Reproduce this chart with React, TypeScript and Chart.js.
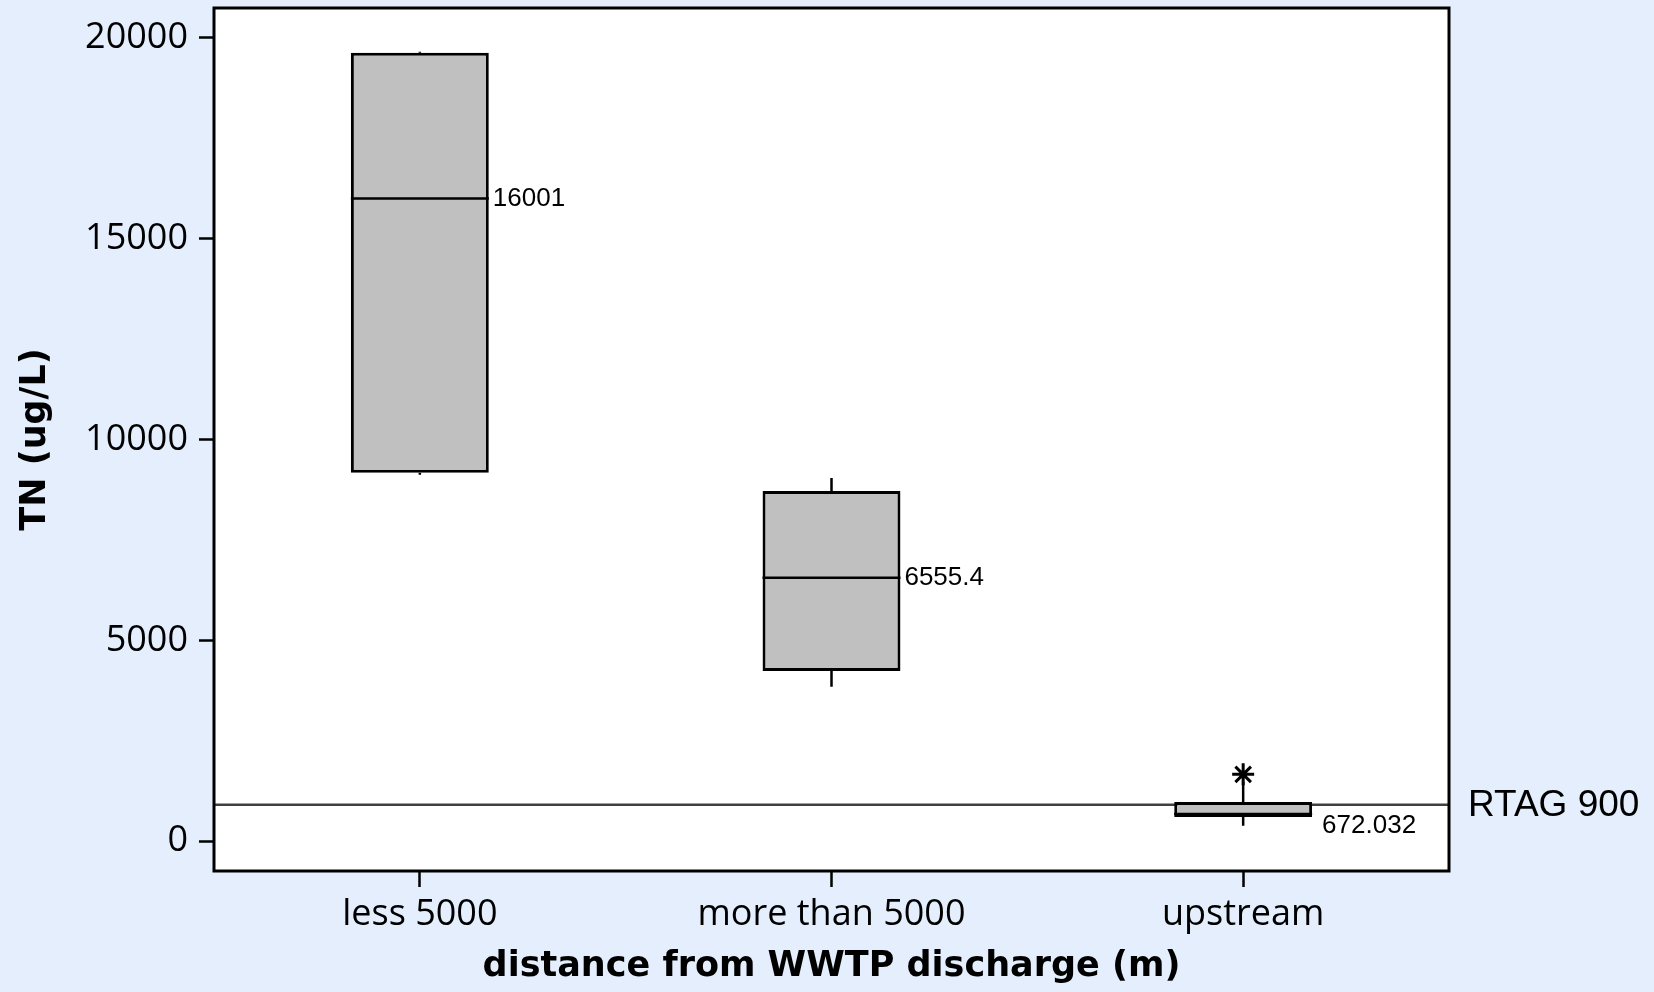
import React, { useEffect, useRef } from "react";
import { Chart, registerables } from "chart.js";

Chart.register(...registerables);

const categories = ["less 5000", "more than 5000", "upstream"];
const whiskerLow = [9120, 3840, 380];
const q1Values = [9170, 4235, 600];
const medianValues = [16001, 6555.4, 672.032];
const q3Values = [19630, 8715, 970];
const whiskerHigh = [19660, 9040, 1480];
const medianLabels = ["16001", "6555.4", "672.032"];
const outlierCategories = ["upstream"];
const outlierValues = [1660];
const yTickValues = [0, 5000, 10000, 15000, 20000];
const referenceValue = 900;
const referenceLabel = "RTAG 900";
const yTitle = "TN (ug/L)";
const xTitle = "distance from WWTP discharge (m)";

const FONT = "'Open Sans', 'Liberation Sans', Arial, sans-serif";
const SMALL_FONT = "'Liberation Sans', Arial, sans-serif";
const BOLD_FONT = "'DejaVu Sans', 'Liberation Sans', sans-serif";
const BG = "#e4eefc";

const boxPlugin = {
  id: "boxExtras",
  beforeDraw(chart: any) {
    const { ctx, chartArea } = chart;
    ctx.save();
    ctx.fillStyle = "#ffffff";
    ctx.fillRect(chartArea.left, chartArea.top, chartArea.right - chartArea.left, chartArea.bottom - chartArea.top);
    ctx.restore();
  },
  beforeDatasetsDraw(chart: any) {
    const { ctx, chartArea, scales } = chart;
    const x = scales.x;
    const y = scales.y;
    ctx.save();
    const ry = y.getPixelForValue(referenceValue);
    ctx.strokeStyle = "#404040";
    ctx.lineWidth = 2.5;
    ctx.beginPath();
    ctx.moveTo(chartArea.left, ry);
    ctx.lineTo(chartArea.right, ry);
    ctx.stroke();
    ctx.strokeStyle = "#000";
    ctx.lineWidth = 2.5;
    categories.forEach((_, i) => {
      const cx = x.getPixelForValue(i);
      ctx.beginPath();
      ctx.moveTo(cx, y.getPixelForValue(q3Values[i]));
      ctx.lineTo(cx, y.getPixelForValue(whiskerHigh[i]));
      ctx.moveTo(cx, y.getPixelForValue(q1Values[i]));
      ctx.lineTo(cx, y.getPixelForValue(whiskerLow[i]));
      ctx.stroke();
    });
    ctx.restore();
  },
  afterDatasetsDraw(chart: any) {
    const { ctx, chartArea, scales } = chart;
    const x = scales.x;
    const y = scales.y;
    const meta = chart.getDatasetMeta(0);
    ctx.save();
    categories.forEach((_, i) => {
      const bar = meta.data[i];
      const half = bar.width / 2;
      const cx = x.getPixelForValue(i);
      const my = y.getPixelForValue(medianValues[i]);
      ctx.strokeStyle = "#000";
      ctx.lineWidth = 2.5;
      ctx.beginPath();
      ctx.moveTo(cx - half, my);
      ctx.lineTo(cx + half, my);
      ctx.stroke();
      ctx.fillStyle = "#000";
      ctx.font = `26px ${SMALL_FONT}`;
      ctx.textAlign = "left";
      const boxH = y.getPixelForValue(q1Values[i]) - y.getPixelForValue(q3Values[i]);
      if (boxH < 30) {
        ctx.textBaseline = "top";
        ctx.fillText(medianLabels[i], cx + half + 10, y.getPixelForValue(q1Values[i]) - 4);
      } else {
        ctx.textBaseline = "middle";
        ctx.fillText(medianLabels[i], cx + half + 4, my);
      }
    });
    ctx.font = `37px ${SMALL_FONT}`;
    ctx.textBaseline = "middle";
    ctx.fillText(referenceLabel, chartArea.right + 19, y.getPixelForValue(referenceValue) + 1);
    ctx.restore();
  },
  afterDraw(chart: any) {
    const { ctx, chartArea } = chart;
    ctx.save();
    ctx.strokeStyle = "#000";
    ctx.lineWidth = 3;
    ctx.strokeRect(chartArea.left, chartArea.top, chartArea.right - chartArea.left, chartArea.bottom - chartArea.top);
    ctx.restore();
  },
};

export default function App() {
  const ref = useRef<HTMLCanvasElement | null>(null);
  useEffect(() => {
    document.body.style.margin = "0";
    document.body.style.background = BG;
    const canvas = ref.current;
    if (!canvas) return;
    const chart = new Chart(canvas, {
      type: "bar",
      data: {
        labels: categories,
        datasets: [
          {
            type: "bar",
            data: q1Values.map((v, i) => [v, q3Values[i]]) as any,
            backgroundColor: "#c0c0c0",
            borderColor: "#000",
            borderWidth: 3,
            borderSkipped: false,
            categoryPercentage: 1,
            barPercentage: 0.335,
          },
          {
            type: "line",
            data: outlierCategories.map((c, i) => ({ x: c, y: outlierValues[i] })) as any,
            showLine: false,
            pointStyle: "star",
            pointRadius: 11,
            pointBorderWidth: 3,
            pointBorderColor: "#000",
            pointBackgroundColor: "#000",
          },
        ],
      },
      options: {
        animation: false,
        responsive: false,
        maintainAspectRatio: false,
        layout: { autoPadding: false, padding: { top: 8, right: 205, bottom: 0, left: 0 } },
        plugins: { legend: { display: false }, tooltip: { enabled: false } },
        scales: {
          x: {
            type: "category",
            offset: true,
            grid: {
              offset: false,
              drawOnChartArea: false,
              drawTicks: true,
              tickLength: 16,
              tickColor: "#000",
              tickWidth: 2.5,
            },
            border: { display: false },
            ticks: { color: "#000", padding: 6, font: { family: FONT, size: 36 } },
            title: {
              display: true,
              text: xTitle,
              color: "#000",
              font: { family: BOLD_FONT, size: 35, weight: "bold" },
              padding: { top: 0, bottom: 4 },
            },
            afterFit(scale: any) {
              scale.height = 121;
              scale.paddingLeft = 0;
              scale.paddingRight = 0;
            },
          },
          y: {
            type: "linear",
            min: -747,
            max: 20747,
            afterBuildTicks(scale: any) {
              scale.ticks = yTickValues.map((v) => ({ value: v }));
            },
            grid: {
              drawOnChartArea: false,
              drawTicks: true,
              tickLength: 15,
              tickColor: "#000",
              tickWidth: 2.5,
            },
            border: { display: false },
            ticks: {
              color: "#000",
              padding: 11,
              font: { family: FONT, size: 36 },
              callback: (v: any) => String(v),
            },
            title: {
              display: true,
              text: yTitle,
              color: "#000",
              font: { family: BOLD_FONT, size: 35, weight: "bold" },
              padding: { top: 15, bottom: 0 },
            },
            afterFit(scale: any) {
              scale.width = 214;
              scale.paddingTop = 0;
              scale.paddingBottom = 0;
            },
          },
        },
      },
      plugins: [boxPlugin],
    });
    return () => chart.destroy();
  }, []);
  return (
    <div style={{ width: 1654, height: 992, background: BG }}>
      <canvas ref={ref} width={1654} height={992} style={{ display: "block" }} />
    </div>
  );
}
